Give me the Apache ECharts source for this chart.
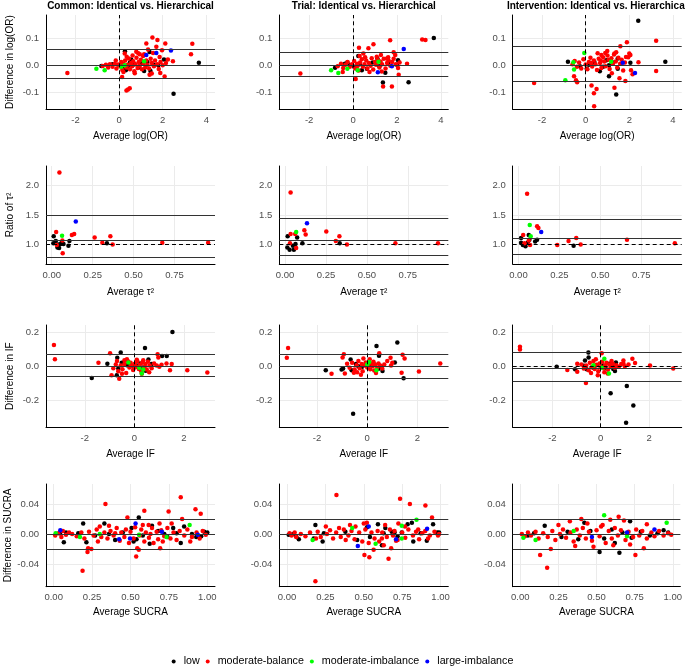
<!DOCTYPE html>
<html><head><meta charset="utf-8">
<script src="https://cdn.jsdelivr.net/npm/echarts@6/dist/echarts.min.js"></script>
<style>html,body{margin:0;padding:0;background:#fff}#chart{width:685px;height:667px}</style>
</head><body><div id="chart"></div>
<script>
// ---------------- DATA ----------------
const colTitles = ['Common: Identical vs. Hierarchical', 'Trial: Identical vs. Hierarchical', 'Intervention: Identical vs. Hierarchical'];
const categories = ['low', 'moderate-balance', 'moderate-imbalance', 'large-imbalance'];
const yTitles = ['Difference in log(OR)', 'Ratio of τ²', 'Difference in IF', 'Difference in SUCRA'];
const xTitles = ['Average log(OR)', 'Average τ²', 'Average IF', 'Average SUCRA'];

// reference line values per panel: [mean, lower LoA, upper LoA]
const loa_logOR = [[0.004, -0.049, 0.058], [0.004, -0.044, 0.051], [0.004, -0.059, 0.066]];
const loa_tau = [[1.085, 0.78, 1.50], [1.08, 0.81, 1.44], [1.10, 0.84, 1.43]];
const loa_IF = [[0.004, -0.063, 0.071], [0.001, -0.075, 0.075], [-0.005, -0.094, 0.084]];
const loa_SUCRA = [[0.0003, -0.0196, 0.0196], [0.0, -0.0204, 0.0204], [0.0006, -0.0187, 0.020]];
const refValue = [0, 1, 0, 0];

// ---- log(OR) ----
const logOR_common_low = [[2.50,-0.106],[3.66,0.009],[0.27,0.052],[1.40,0.049],[2.06,0.021],[0.56,0.021],[1.44,-0.021],[1.15,-0.021],[0.31,-0.019],[-0.81,-0.003],[-0.3,0.004],[0.0,0.001],[0.15,0.006],[0.4,-0.004],[0.7,0.004],[0.9,-0.008],[1.05,0.007],[1.3,0.012],[1.6,0.002],[1.8,0.0],[0.5,0.01],[0.2,-0.009]];
const logOR_common_modBal = [[-2.37,-0.029],[1.53,0.103],[1.76,0.094],[1.25,0.081],[2.12,0.081],[1.71,0.069],[3.36,0.080],[3.30,0.041],[1.33,0.059],[1.97,0.056],[0.79,0.050],[0.26,0.044],[0.95,0.041],[1.56,0.046],[0.34,-0.094],[0.41,-0.090],[0.49,-0.086],[0.14,-0.044],[2.09,-0.042],[1.89,-0.029],[1.50,-0.031],[2.47,0.015],[2.24,0.021],[1.86,0.031],[1.10,0.034],
 [-0.75,-0.003],[-0.6,0.002],[-0.5,-0.008],[-0.42,0.004],[-0.3,-0.006],[-0.2,0.006],[-0.12,-0.012],[-0.05,0.003],[0.05,-0.004],[0.1,0.012],[0.15,-0.018],[0.2,0.005],[0.28,0.018],[0.33,-0.008],[0.4,0.002],[0.45,0.025],[0.5,-0.015],[0.55,0.008],[0.6,-0.004],[0.65,0.015],[0.7,-0.022],[0.75,0.004],[0.8,0.028],[0.85,-0.01],[0.9,0.012],[0.95,-0.002],[1.0,0.02],[1.05,-0.015],[1.12,0.006],[1.2,-0.008],[1.25,0.018],[1.3,0.002],[1.38,-0.012],[1.45,0.024],[1.5,0.008],[1.6,-0.004],[1.65,0.018],[1.75,0.004],[1.82,-0.014],[1.9,0.012],[2.0,0.0],[2.15,0.008],[0.35,0.032],[0.62,0.036],[1.15,0.041],[0.2,-0.025],[0.72,-0.03],[1.4,-0.035],[0.88,0.045],[-0.15,0.018]];
const logOR_common_modImb = [[-1.04,-0.013],[-0.66,-0.019],[1.15,0.015],[0.26,0.0],[0.1,-0.006]];
const logOR_common_large = [[1.71,0.046],[1.25,0.038],[2.38,0.055]];

const logOR_trial_low = [[3.68,0.101],[2.53,-0.063],[1.36,-0.064],[1.47,-0.028],[1.11,0.025],[0.24,0.034],[2.05,0.019],[0.40,-0.019],[-0.26,0.010],[-0.37,0.006],[-0.82,-0.009],[0.63,-0.013],[0.78,0.006],[0.05,-0.006],[-0.14,0.0],[0.3,0.004],[0.9,0.01],[1.2,-0.004],[1.6,0.006],[2.0,0.002]];
const logOR_trial_modBal = [[-2.40,-0.031],[3.15,0.096],[3.30,0.094],[1.69,0.093],[0.93,0.078],[0.27,0.065],[0.70,0.063],[1.85,0.048],[1.92,0.038],[0.47,0.044],[1.27,0.038],[1.54,0.025],[0.12,-0.051],[1.37,-0.079],[1.77,-0.079],[2.08,-0.035],[2.46,0.006],[-0.47,-0.025],[1.31,-0.023],
 [-0.7,-0.004],[-0.55,0.006],[-0.45,-0.01],[-0.35,0.002],[-0.25,0.012],[-0.15,-0.006],[-0.05,0.004],[0.05,0.016],[0.1,-0.012],[0.18,0.006],[0.25,-0.02],[0.32,0.01],[0.4,0.022],[0.45,-0.006],[0.52,0.004],[0.6,0.018],[0.65,-0.012],[0.72,0.008],[0.8,-0.002],[0.85,0.026],[0.92,-0.016],[1.0,0.012],[1.05,0.002],[1.12,0.02],[1.2,-0.008],[1.25,0.014],[1.32,0.004],[1.4,0.024],[1.48,-0.012],[1.55,0.008],[1.62,0.018],[1.7,-0.002],[1.78,0.012],[1.85,0.024],[1.95,0.004],[2.05,-0.01],[2.12,0.01],[0.3,0.034],[0.55,0.03],[1.08,0.032],[0.75,-0.025],[0.2,-0.003],[1.6,0.03]];
const logOR_trial_modImb = [[-1.0,-0.019],[-0.67,-0.029],[0.21,-0.019],[1.16,0.013],[-0.26,-0.013]];
const logOR_trial_large = [[2.31,0.060],[1.77,-0.004],[1.13,-0.026]];

const logOR_interv_low = [[2.41,0.166],[1.40,-0.109],[1.07,-0.041],[3.65,0.013],[-0.81,0.013],[2.05,0.009],[1.47,-0.013],[1.07,0.0],[0.65,-0.022],[0.27,0.006],[-0.26,-0.004],[0.05,-0.013],[0.95,0.019],[1.47,0.025],[0.4,0.012],[0.8,-0.006],[1.25,0.01],[0.15,0.002]];
const logOR_interv_modBal = [[-2.36,-0.066],[3.23,0.091],[3.23,-0.021],[1.89,0.086],[1.59,0.071],[0.99,0.053],[1.32,0.044],[0.72,0.038],[0.27,-0.075],[0.50,-0.088],[0.38,-0.104],[0.39,-0.153],[1.32,-0.084],[1.82,-0.059],[1.55,-0.048],[-0.53,-0.041],[-0.44,-0.056],[-0.39,-0.063],[2.15,-0.034],[2.08,-0.019],[2.42,0.011],[2.0,0.044],[1.85,0.031],
 [-0.6,0.004],[-0.5,0.016],[-0.4,-0.006],[-0.3,0.01],[-0.2,-0.012],[-0.1,0.022],[0.0,0.003],[0.08,-0.015],[0.15,0.012],[0.22,0.028],[0.3,-0.005],[0.38,0.018],[0.45,0.004],[0.52,-0.018],[0.6,0.024],[0.66,0.008],[0.72,-0.01],[0.8,0.03],[0.86,0.014],[0.92,-0.004],[1.0,0.036],[1.05,0.02],[1.1,-0.014],[1.18,0.026],[1.25,0.006],[1.3,0.04],[1.38,0.014],[1.45,-0.008],[1.5,0.028],[1.58,0.006],[1.65,0.02],[1.72,-0.02],[1.8,0.01],[1.95,0.03],[2.05,0.038],[0.55,0.045],[0.9,0.046],[1.2,-0.03],[0.25,0.008],[1.4,0.048],[0.7,0.016]];
const logOR_interv_modImb = [[-0.06,0.046],[-0.93,-0.056],[-0.53,-0.016],[1.17,0.013],[-0.56,0.011]];
const logOR_interv_large = [[2.26,-0.029],[1.70,0.009]];

// ---- tau^2 ratio ----
const tau_common_low = [[0.012,1.14],[0.010,1.02],[0.025,1.06],[0.035,0.95],[0.045,0.94],[0.061,1.04],[0.055,1.01],[0.072,1.01],[0.102,0.98],[0.108,1.06],[0.337,1.02],[0.040,1.00]];
const tau_common_modBal = [[0.047,2.22],[0.027,1.21],[0.123,1.16],[0.137,1.18],[0.262,1.12],[0.309,1.03],[0.358,1.14],[0.372,1.00],[0.675,1.03],[0.955,1.03],[0.067,0.85],[0.031,0.99],[0.065,1.07]];
const tau_common_modImb = [[0.063,1.15]];
const tau_common_large = [[0.147,1.39]];

const tau_trial_low = [[0.016,1.14],[0.014,0.95],[0.028,0.91],[0.048,0.98],[0.054,0.91],[0.064,1.01],[0.074,1.12],[0.106,1.02],[0.334,1.02]];
const tau_trial_modBal = [[0.034,1.88],[0.034,1.18],[0.118,1.24],[0.126,1.17],[0.062,1.18],[0.252,1.22],[0.310,1.06],[0.332,1.14],[0.378,1.00],[0.674,1.02],[0.934,1.02],[0.030,1.02],[0.068,0.94]];
const tau_trial_modImb = [[0.068,1.21]];
const tau_trial_large = [[0.134,1.36]];

const tau_interv_low = [[0.016,1.11],[0.016,1.03],[0.027,0.99],[0.043,0.97],[0.063,1.16],[0.067,1.08],[0.057,1.03],[0.102,1.05],[0.114,1.08],[0.337,0.98]];
const tau_interv_modBal = [[0.053,1.86],[0.029,1.16],[0.114,1.31],[0.122,1.28],[0.306,1.06],[0.353,1.11],[0.237,0.99],[0.380,1.00],[0.663,1.08],[0.955,1.02],[0.037,1.02],[0.071,0.99],[0.063,1.07]];
const tau_interv_modImb = [[0.069,1.33],[0.075,1.14]];
const tau_interv_large = [[0.139,1.21]];

// ---- IF ----
const IF_common_low = [[1.54,0.200],[0.43,0.106],[-0.55,0.080],[1.12,0.059],[1.31,0.059],[-1.72,-0.069],[-1.09,0.014],[-0.69,0.049],[-0.71,-0.053],[-0.65,-0.014],[-0.51,0.020],[0.23,0.016],[0.46,-0.027],[0.57,0.039],[0.70,0.012],[-0.04,-0.004],[-0.18,0.016],[0.1,0.004],[0.35,-0.008],[-0.3,0.006]];
const IF_common_modBal = [[-3.25,0.124],[-3.21,0.041],[-1.45,0.020],[-0.98,0.076],[-0.92,-0.053],[-0.61,-0.073],[-0.40,0.035],[0.94,0.069],[0.97,0.051],[1.51,0.012],[1.44,-0.024],[2.14,-0.024],[2.95,-0.037],[1.01,-0.004],[0.36,0.035],
 [-0.85,-0.012],[-0.75,0.01],[-0.65,-0.03],[-0.55,0.004],[-0.48,-0.018],[-0.4,0.012],[-0.33,-0.04],[-0.25,0.028],[-0.2,-0.008],[-0.12,0.006],[-0.05,-0.022],[0.02,0.014],[0.08,-0.004],[0.12,0.03],[0.18,-0.016],[0.22,0.008],[0.28,-0.03],[0.32,0.02],[0.4,-0.006],[0.45,0.012],[0.5,-0.02],[0.55,0.026],[0.62,0.004],[0.7,-0.012],[0.8,0.016],[0.9,0.004],[1.1,0.008],[1.3,0.016],[-0.3,0.04],[0.1,0.038],[-0.5,-0.045],[0.3,-0.045],[-0.15,0.02],[0.6,-0.035],[-0.7,0.03],[0.0,-0.01]];
const IF_common_modImb = [[-0.24,0.022],[0.36,-0.020],[0.30,-0.043],[0.2,-0.01]];
const IF_common_large = [];

const IF_trial_low = [[1.20,0.139],[0.37,0.118],[-0.56,-0.278],[1.45,-0.071],[-1.65,-0.024],[-1.02,-0.020],[-0.96,-0.014],[-0.66,0.039],[-0.45,0.012],[-0.62,-0.024],[0.47,0.061],[0.57,-0.004],[0.61,-0.029],[1.10,0.022],[0.11,0.006],[-0.2,-0.004],[0.3,0.01],[-0.35,0.0],[0.45,-0.015],[0.0,0.015]];
const IF_trial_modBal = [[-3.15,0.106],[-3.20,0.049],[-1.42,-0.045],[-0.93,0.069],[-0.98,0.051],[-0.89,-0.043],[-0.80,0.014],[-0.53,-0.039],[0.48,0.075],[0.93,0.049],[1.00,0.020],[1.41,0.067],[1.49,0.045],[1.37,-0.039],[2.06,-0.031],[2.91,0.016],
 [-0.7,-0.01],[-0.6,0.02],[-0.5,-0.02],[-0.42,0.006],[-0.35,0.03],[-0.3,-0.012],[-0.22,0.012],[-0.18,-0.03],[-0.12,0.004],[-0.06,0.022],[0.0,-0.008],[0.05,0.01],[0.12,-0.018],[0.18,0.014],[0.22,0.0],[0.28,-0.026],[0.32,0.008],[0.4,-0.01],[0.45,0.016],[0.52,0.004],[0.6,-0.014],[0.68,0.01],[0.8,0.03],[0.95,0.004],[-0.15,0.045],[0.1,0.04],[-0.25,-0.05],[0.35,-0.04],[-0.4,-0.035],[0.25,0.026]];
const IF_trial_modImb = [[0.08,0.025],[0.37,-0.024],[0.0,0.01]];
const IF_trial_large = [];

const IF_interv_low = [[1.05,-0.331],[1.35,-0.231],[0.41,-0.159],[1.08,-0.116],[-1.82,-0.004],[-1.06,-0.018],[-0.51,0.080],[-0.50,0.051],[-0.65,0.033],[-0.58,-0.018],[0.36,0.014],[0.52,-0.004],[0.59,-0.029],[0.63,0.022],[0.52,-0.016],[-0.17,0.006],[-0.3,-0.01],[0.1,0.004],[-0.7,0.002],[0.2,-0.012]];
const IF_interv_modBal = [[-3.34,0.114],[-3.34,0.098],[-1.38,-0.022],[-0.97,0.014],[-0.97,-0.033],[-0.61,-0.098],[-0.12,-0.053],[0.04,0.075],[0.94,0.033],[0.94,0.016],[1.31,0.043],[1.42,0.018],[2.04,0.004],[3.00,-0.014],[0.29,-0.043],
 [-0.8,0.01],[-0.7,-0.014],[-0.6,0.004],[-0.5,-0.024],[-0.45,0.02],[-0.38,-0.006],[-0.3,0.03],[-0.25,-0.016],[-0.18,0.008],[-0.1,-0.03],[-0.05,0.016],[0.0,-0.006],[0.06,0.026],[0.12,-0.012],[0.18,0.004],[0.24,0.02],[0.3,-0.02],[0.36,0.01],[0.42,-0.004],[0.5,0.014],[0.58,-0.01],[0.65,0.006],[0.75,-0.004],[0.85,0.012],[1.0,0.0],[1.15,0.01],[-0.2,0.04],[0.15,-0.035],[0.45,0.03],[-0.4,-0.04]];
const IF_interv_modImb = [[0.15,0.043],[0.34,-0.043],[-0.30,0.006],[0.05,-0.01]];
const IF_interv_large = [];

// ---- SUCRA ----
const SUCRA_common_low = [[0.554,0.022],[0.192,0.014],[0.827,-0.012],[0.64,0.011],[0.507,0.008],[0.539,-0.007],[0.066,-0.011],[0.213,-0.011],[0.625,-0.013],[0.778,0.008],[0.849,0.010],[0.928,-0.004],[1.0,0.002],[0.33,0.014],[0.96,-0.003],[0.04,0.001],[0.08,0.002],[0.16,0.001],[0.27,-0.002],[0.4,-0.008],[0.45,0.002],[0.68,0.004],[0.72,0.0],[0.74,-0.004],[0.8,0.001],[0.9,0.0],[0.58,-0.002],[0.52,-0.01],[0.36,0.0],[0.98,0.003]];
const SUCRA_common_modBal = [[0.188,-0.049],[0.337,0.040],[0.48,0.022],[0.59,0.031],[0.748,0.030],[0.827,0.049],[0.923,0.033],[0.957,0.027],[0.537,-0.030],[0.544,-0.019],[0.554,-0.021],[0.224,-0.019],[0.245,-0.020],[0.22,-0.024],[0.836,0.020],[0.768,0.014],[0.689,0.014],[0.693,-0.019],[0.889,-0.010],[0.618,0.012],[0.288,-0.010],
 [0.01,-0.002],[0.03,0.001],[0.05,-0.004],[0.06,0.004],[0.08,-0.001],[0.1,0.002],[0.12,0.0],[0.15,-0.003],[0.18,0.002],[0.2,-0.006],[0.23,0.003],[0.26,-0.002],[0.28,0.006],[0.3,0.01],[0.31,-0.004],[0.33,0.002],[0.35,-0.006],[0.37,0.004],[0.39,-0.002],[0.41,0.008],[0.43,-0.009],[0.44,0.002],[0.46,-0.004],[0.47,0.006],[0.49,-0.012],[0.5,0.003],[0.52,-0.006],[0.53,0.009],[0.56,-0.002],[0.57,0.006],[0.59,-0.01],[0.6,0.002],[0.62,-0.005],[0.64,0.008],[0.65,-0.012],[0.67,0.003],[0.68,-0.007],[0.7,0.005],[0.72,-0.003],[0.74,0.008],[0.76,-0.006],[0.78,0.002],[0.8,-0.008],[0.82,0.004],[0.85,-0.002],[0.87,0.006],[0.9,-0.004],[0.93,0.002],[0.95,-0.006],[0.97,0.004],[0.99,-0.001],[0.4,0.001],[0.63,0.0],[0.58,0.012],[0.36,0.011],[0.71,-0.01]];
const SUCRA_common_modImb = [[0.885,0.012],[0.171,-0.004],[0.013,0.001],[0.556,-0.001],[0.735,-0.004],[0.3,0.0]];
const SUCRA_common_large = [[0.533,0.014],[0.043,0.005],[0.497,-0.006],[0.426,-0.007],[0.704,0.003],[0.938,-0.001]];

const SUCRA_trial_low = [[0.185,0.012],[0.232,-0.010],[0.174,-0.006],[0.521,0.009],[0.592,0.013],[0.682,0.003],[0.813,0.015],[0.822,-0.010],[0.951,0.013],[0.91,-0.009],[0.978,0.002],[0.011,-0.001],[0.077,-0.007],[0.457,-0.008],[0.618,-0.015],[0.629,0.001],[0.747,0.002],[0.785,0.013],[0.04,0.0],[0.06,-0.003],[0.24,0.001],[0.38,0.003],[0.54,-0.004],[0.7,0.002],[0.72,-0.003],[0.87,0.001],[0.99,0.002],[0.64,0.008]];
const SUCRA_trial_modBal = [[0.185,-0.063],[0.322,0.052],[0.736,0.047],[0.80,0.040],[0.901,0.038],[0.944,0.022],[0.504,-0.028],[0.536,-0.031],[0.564,-0.021],[0.678,-0.019],[0.661,-0.033],[0.639,0.012],[0.50,0.014],[0.725,0.014],[0.768,0.010],[0.854,0.006],[0.446,0.010],[0.253,0.010],[0.339,0.008],[0.382,-0.008],[0.618,-0.006],[0.918,-0.006],[0.983,-0.002],[0.532,-0.012],[0.189,-0.006],[0.017,0.001],
 [0.03,-0.002],[0.05,0.002],[0.06,-0.004],[0.09,0.0],[0.12,-0.003],[0.15,0.002],[0.2,0.003],[0.22,-0.004],[0.26,0.0],[0.28,0.005],[0.3,-0.006],[0.32,0.002],[0.35,-0.004],[0.37,0.006],[0.4,-0.002],[0.42,0.004],[0.44,-0.007],[0.47,0.002],[0.49,-0.01],[0.51,0.006],[0.55,0.002],[0.57,-0.006],[0.59,0.004],[0.6,-0.01],[0.62,0.002],[0.65,-0.004],[0.67,0.006],[0.69,-0.002],[0.7,0.004],[0.72,-0.008],[0.75,0.002],[0.77,-0.005],[0.79,0.006],[0.82,-0.002],[0.84,0.003],[0.86,-0.007],[0.88,0.001],[0.9,0.004],[0.93,-0.002],[0.96,0.003],[0.99,0.0],[0.41,0.012],[0.52,0.015],[0.63,-0.015],[0.71,-0.009]];
const SUCRA_trial_modImb = [[0.167,-0.008],[0.425,0.008],[0.577,-0.013],[0.843,0.019],[0.747,0.011],[0.747,-0.006]];
const SUCRA_trial_large = [[0.461,-0.016],[0.532,0.010],[0.71,-0.007],[0.912,0.007]];

const SUCRA_interv_low = [[0.42,0.015],[0.52,-0.024],[0.65,-0.025],[0.72,0.017],[0.94,0.005],[0.16,0.011],[0.05,-0.002],[0.09,0.001],[0.27,-0.004],[0.31,0.003],[0.46,0.004],[0.55,-0.006],[0.6,0.006],[0.67,0.002],[0.73,-0.005],[0.79,0.003],[0.85,-0.002],[0.9,0.001],[0.97,0.002],[0.38,-0.007],[0.62,-0.012]];
const SUCRA_interv_modBal = [[0.176,-0.045],[0.13,-0.028],[0.59,0.019],[0.645,0.023],[0.83,0.013],[0.325,0.017],[0.755,-0.028],[0.81,-0.019],[0.48,-0.017],[0.2,-0.02],[0.25,0.012],[0.4,0.02],[0.68,0.018],[0.53,0.01],[0.72,-0.014],
 [0.01,0.0],[0.03,-0.003],[0.05,0.002],[0.07,-0.002],[0.1,0.003],[0.12,-0.006],[0.15,0.001],[0.18,-0.004],[0.21,0.004],[0.23,-0.008],[0.26,0.0],[0.28,0.006],[0.3,-0.005],[0.33,0.002],[0.35,-0.01],[0.37,0.006],[0.39,-0.002],[0.41,0.008],[0.43,-0.006],[0.45,0.003],[0.47,-0.009],[0.5,0.005],[0.52,-0.003],[0.54,0.012],[0.56,-0.012],[0.58,0.004],[0.6,-0.006],[0.62,0.008],[0.64,-0.002],[0.66,0.005],[0.69,-0.008],[0.71,0.003],[0.74,-0.004],[0.76,0.006],[0.78,-0.002],[0.8,0.004],[0.83,-0.006],[0.86,0.002],[0.88,-0.003],[0.91,0.004],[0.94,-0.002],[0.97,0.001],[0.99,-0.001],[0.44,0.014],[0.61,-0.015],[0.36,-0.016]];
const SUCRA_interv_modImb = [[0.55,0.025],[0.96,0.015],[0.02,-0.005],[0.1,-0.008],[0.7,-0.003],[0.35,0.004]];
const SUCRA_interv_large = [[0.47,-0.004],[0.7,0.002],[0.88,0.006]];

// ---------------- ASSEMBLY ----------------
const panelData = [
  [[logOR_common_low, logOR_common_modBal, logOR_common_modImb, logOR_common_large],
   [logOR_trial_low, logOR_trial_modBal, logOR_trial_modImb, logOR_trial_large],
   [logOR_interv_low, logOR_interv_modBal, logOR_interv_modImb, logOR_interv_large]],
  [[tau_common_low, tau_common_modBal, tau_common_modImb, tau_common_large],
   [tau_trial_low, tau_trial_modBal, tau_trial_modImb, tau_trial_large],
   [tau_interv_low, tau_interv_modBal, tau_interv_modImb, tau_interv_large]],
  [[IF_common_low, IF_common_modBal, IF_common_modImb, IF_common_large],
   [IF_trial_low, IF_trial_modBal, IF_trial_modImb, IF_trial_large],
   [IF_interv_low, IF_interv_modBal, IF_interv_modImb, IF_interv_large]],
  [[SUCRA_common_low, SUCRA_common_modBal, SUCRA_common_modImb, SUCRA_common_large],
   [SUCRA_trial_low, SUCRA_trial_modBal, SUCRA_trial_modImb, SUCRA_trial_large],
   [SUCRA_interv_low, SUCRA_interv_modBal, SUCRA_interv_modImb, SUCRA_interv_large]]
];
const panelLoa = [loa_logOR, loa_tau, loa_IF, loa_SUCRA];

// ---------------- LAYOUT / STYLE ----------------
const FONT = '"Liberation Sans", Arial, Helvetica, sans-serif';
const catColors = ['#000000', '#FF0000', '#00FF00', '#0000FF'];
const gridLeft = [46, 279.3, 512.7];
const gridWidth = 169;
const gridTop = [15, 166, 325, 484];
const gridHeight = [94.3, 98, 102.3, 102.7];
const rowAxes = [
  { x: [[-3.35, 4.4], [-3.36, 4.34], [-3.34, 4.4]], xi: 2, xd: 0, y: [-0.164, 0.187], yi: 0.1, yd: 1, vline: true, xGap: 21.5 },
  { x: [[-0.035, 0.997], [-0.035, 0.997], [-0.035, 0.997]], xi: 0.25, xd: 2, y: [0.67, 2.33], yi: 0.5, yd: 1, vline: false, xGap: 23.5 },
  { x: [[-3.57, 3.26], [-3.5, 3.23], [-3.64, 3.35]], xi: 2, xd: 0, y: [-0.358, 0.241], yi: 0.2, yd: 1, vline: true, xGap: 22 },
  { x: [[-0.05, 1.05], [-0.05, 1.05], [-0.05, 1.05]], xi: 0.25, xd: 2, y: [-0.0703, 0.0667], yi: 0.04, yd: 2, vline: false, xGap: 21 }
];
const fmt = d => v => (Math.abs(v) < 1e-9 ? 0 : v).toFixed(d);

const option = {
  animation: false,
  textStyle: { fontFamily: FONT },
  title: [], grid: [], xAxis: [], yAxis: [], series: [],
  legend: {
    data: categories, left: 'center', top: 656, padding: 0,
    icon: 'circle', itemWidth: 10, itemHeight: 4, itemGap: 6,
    selectedMode: false,
    textStyle: { fontSize: 10.7, color: '#000', fontFamily: FONT }
  }
};

for (let c = 0; c < 3; c++) {
  option.title.push({
    text: colTitles[c], left: gridLeft[c] + gridWidth / 2, top: 1, padding: 0, textAlign: 'center',
    textStyle: { fontSize: 10, fontWeight: 'bold', color: '#000', fontFamily: FONT }
  });
}

for (let r = 0; r < 4; r++) {
  const ax = rowAxes[r];
  for (let c = 0; c < 3; c++) {
    const idx = r * 3 + c;
    option.grid.push({ left: gridLeft[c], top: gridTop[r], width: gridWidth, height: gridHeight[r] });
    const common = {
      type: 'value', gridIndex: idx, nameLocation: 'middle',
      nameTextStyle: { fontSize: 10, color: '#000', fontFamily: FONT },
      axisLine: { show: true, onZero: false, lineStyle: { color: '#000', width: 1 } },
      axisTick: { show: false },
      splitLine: { show: true, showMinLine: false, showMaxLine: false, lineStyle: { color: '#ebebeb', width: 1 } }
    };
    option.xAxis.push(Object.assign({}, common, {
      min: ax.x[c][0], max: ax.x[c][1], minInterval: ax.xi, maxInterval: ax.xi,
      name: xTitles[r], nameGap: ax.xGap,
      axisLabel: { fontSize: 9.5, color: '#4d4d4d', margin: 6, showMinLabel: false, showMaxLabel: false, formatter: fmt(ax.xd), fontFamily: FONT }
    }));
    option.yAxis.push(Object.assign({}, common, {
      min: ax.y[0], max: ax.y[1], minInterval: ax.yi, maxInterval: ax.yi,
      name: c === 0 ? yTitles[r] : '', nameGap: 31,
      axisLabel: { fontSize: 9.5, color: '#4d4d4d', margin: 7, showMinLabel: false, showMaxLabel: false, formatter: fmt(ax.yd), fontFamily: FONT }
    }));
    const loa = panelLoa[r][c];
    const dashed = { type: [4, 3], color: '#000', width: 1 };
    const solid = { type: 'solid', color: '#333', width: 1 };
    const mlData = [
      { yAxis: refValue[r], lineStyle: dashed },
      { yAxis: loa[0], lineStyle: solid },
      { yAxis: loa[1], lineStyle: solid },
      { yAxis: loa[2], lineStyle: solid }
    ];
    if (ax.vline) mlData.push({ xAxis: 0, lineStyle: dashed });
    for (let k = 0; k < 4; k++) {
      const s = {
        name: categories[k], type: 'scatter', xAxisIndex: idx, yAxisIndex: idx,
        data: panelData[r][c][k], symbol: 'circle', symbolSize: 4.5,
        itemStyle: { color: catColors[k], opacity: 1 }, silent: true
      };
      if (k === 1) {
        s.markLine = { silent: true, symbol: ['none', 'none'], label: { show: false }, animation: false, data: mlData };
      }
      option.series.push(s);
    }
  }
}

const chart = echarts.init(document.getElementById('chart'), null, { renderer: 'canvas' });
chart.setOption(option);
</script></body></html>
